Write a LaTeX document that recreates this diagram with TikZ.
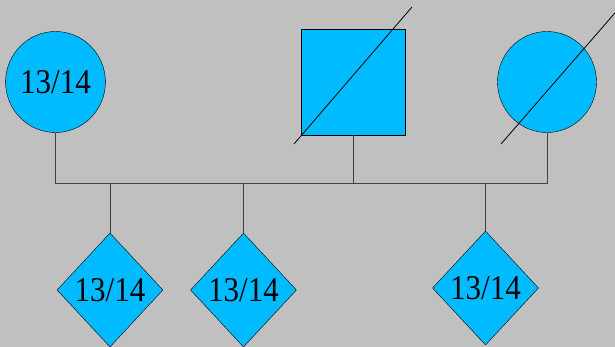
\documentclass[tikz,border=0pt]{standalone}
\usepackage{fontspec}
\setmainfont{Liberation Serif}
\usetikzlibrary{shapes.geometric,calc}
\definecolor{pedblue}{RGB}{0,187,255}
\definecolor{pedgray}{RGB}{192,192,192}
\definecolor{pedline}{RGB}{64,64,64}
\newcommand{\ratio}{\scalebox{1}[1.12]{13/14}}
\tikzset{
	% Pedigree symbols: female, male and unknown sex
	female node/.style={ellipse,draw=black,fill=pedblue,inner sep=0,minimum width=99pt,minimum height=101pt},
	male node/.style={rectangle,draw=black,fill=pedblue,thick,inner sep=0,minimum width=104pt,minimum height=106pt},
	unknown node/.style={diamond,draw=black,fill=pedblue,inner sep=0,minimum width=106pt,minimum height=114pt},
	link/.style={draw=pedline,line width=0.9pt},
	deceased/.style={draw=black,line width=0.8pt}
}
\begin{document}
\begin{tikzpicture}[x=1pt,y=-1pt,font=\fontsize{31}{31}\selectfont]

% background
\fill[pedgray] (0,0) rectangle (615,347);
\useasboundingbox (0,0) rectangle (615,347);

% parents (generation 1)
\node(mL) at (55.5, 82) [female node] {\ratio};
\node(fa) at (353, 82) [male node] {};
\node(mR) at (547, 82) [female node] {};

% children (generation 2)
\node(k1) at (110, 290) [unknown node] {\ratio};
\node(k2) at (243.5, 290) [unknown node] {\ratio};
\node(k3) at (485.5, 288) [unknown node] {\ratio};

% mating lines
\coordinate (mate) at (353, 183);
\draw[link] (mL.south) |- (mate) -- (fa.south);
\draw[link] (mR.south) |- (mate);

% sibship lines
\draw[link] (k1.north) |- (k2.north |- mate) -- (k2.north);
\draw[link] (k3.north) -- (k3.north |- mate);

% deceased marks
\draw[deceased] ($(fa)+(-59,62)$) -- ($(fa)+(59,-75)$);
\draw[deceased] ($(mR)+(-46,62)$) -- ($(mR)+(74,-76)$);

\end{tikzpicture}
\end{document}
